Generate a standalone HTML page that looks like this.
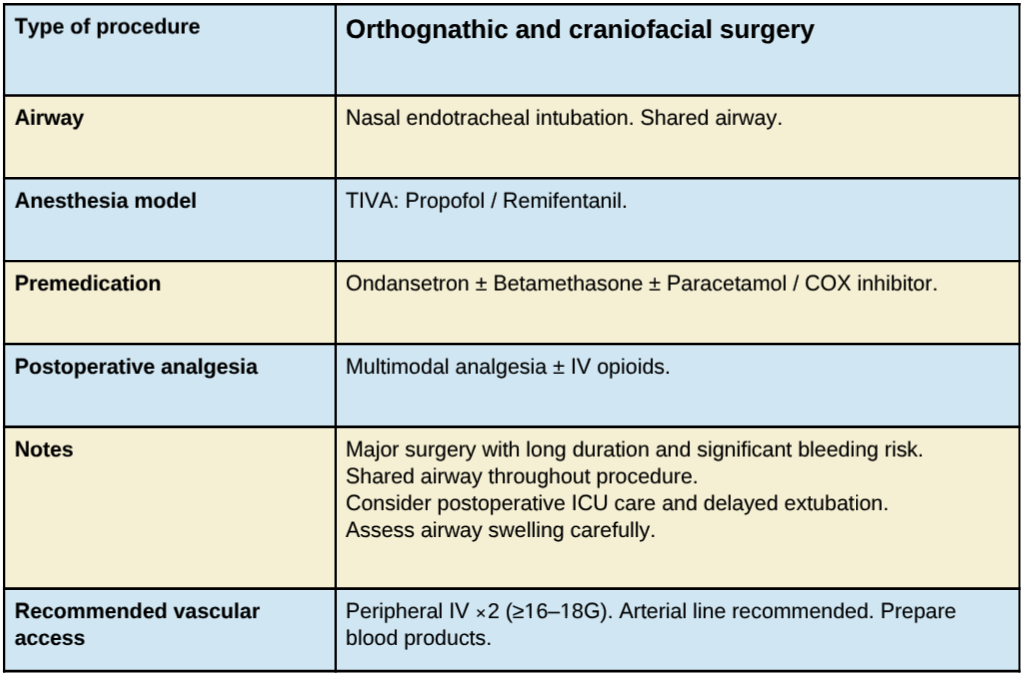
<!DOCTYPE html>
<html>
<head>
<meta charset="utf-8">
<style>
html,body{margin:0;padding:0;background:#fff;}
body{width:1024px;height:676px;position:relative;overflow:hidden;font-family:"Liberation Sans",sans-serif;color:#000;}
svg.grid{position:absolute;left:0;top:0;}
.t{position:absolute;white-space:nowrap;font-size:21.41px;line-height:26.75px;font-kerning:none;text-rendering:geometricPrecision;-webkit-text-stroke:0.15px #000;will-change:transform;transform:translate(var(--dx,0px),var(--dy,0px)) rotate(0.001deg);}
.b{font-weight:bold;font-size:21.31px;}
.c{display:inline-block;transform:scaleY(1.044);transform-origin:0 20px;}
.one{display:inline-block;clip-path:polygon(0 0,100% 0,100% 18.0px,7.28px 18.0px,7.28px 100%,5.38px 100%,5.38px 18.0px,0 18.0px);}
.x{display:inline-block;transform:translateY(1.9px) scale(0.84);}
.h{font-size:25.9px;font-weight:bold;line-height:30px;}
.l{left:14px;--dx:0.65px;}
.r{left:345px;--dx:0.67px;}
</style>
</head>
<body>
<svg class="grid" width="1024" height="676" viewBox="0 0 1024 676">
  <rect x="4" y="4" width="1015.5" height="91.5" fill="#D0E7F3"/>
  <rect x="4" y="95.5" width="1015.5" height="82.8" fill="#F5F0D3"/>
  <rect x="4" y="178.3" width="1015.5" height="82.9" fill="#D0E7F3"/>
  <rect x="4" y="261.2" width="1015.5" height="82.8" fill="#F5F0D3"/>
  <rect x="4" y="344" width="1015.5" height="83" fill="#D0E7F3"/>
  <rect x="4" y="427" width="1015.5" height="161.7" fill="#F5F0D3"/>
  <rect x="4" y="588.7" width="1015.5" height="82.5" fill="#D0E7F3"/>
  <g stroke="#000" fill="none">
    <line x1="2.95" y1="4.25" x2="1020.45" y2="4.25" stroke-width="2.60"/>
    <line x1="2.95" y1="95.52" x2="1020.45" y2="95.52" stroke-width="2.30"/>
    <line x1="2.95" y1="178.28" x2="1020.45" y2="178.28" stroke-width="2.40"/>
    <line x1="2.95" y1="261.18" x2="1020.45" y2="261.18" stroke-width="2.20"/>
    <line x1="2.95" y1="344.04" x2="1020.45" y2="344.04" stroke-width="2.40"/>
    <line x1="2.95" y1="426.93" x2="1020.45" y2="426.93" stroke-width="2.70"/>
    <line x1="2.95" y1="588.70" x2="1020.45" y2="588.70" stroke-width="2.70"/>
    <line x1="2.95" y1="671.15" x2="1020.45" y2="671.15" stroke-width="2.60"/>
    <line x1="4.10" y1="2.95" x2="4.10" y2="672.45" stroke-width="2.30"/>
    <line x1="335.65" y1="2.95" x2="335.65" y2="672.45" stroke-width="2.30"/>
    <line x1="1019.45" y1="2.95" x2="1019.45" y2="672.45" stroke-width="2.00"/>
  </g>
</svg>

<div class="t b l" style="top:13px;--dy:0.54px;letter-spacing:-0.0156px"><span class="c">T</span>ype of procedure</div>
<div class="t h r" style="top:15px;--dy:0.04px"><span class="c" style="transform-origin:0 23.2px">O</span>rthognathic and craniofacial surgery</div>
<div class="t b l" style="top:104px;--dy:0.82px;letter-spacing:-0.1200px"><span class="c">A</span>irway</div>
<div class="t r" style="top:104px;--dy:0.82px;letter-spacing:-0.0193px"><span class="c">N</span>asal endotracheal intubation. <span class="c">S</span>hared airway.</div>
<div class="t b l" style="top:187px;--dy:0.77px;letter-spacing:-0.0067px"><span class="c">A</span>nesthesia model</div>
<div class="t r" style="top:187px;--dy:0.77px;letter-spacing:-0.0017px"><span class="c">T</span><span class="c">I</span><span class="c">V</span><span class="c">A</span>: <span class="c">P</span>ropofol / <span class="c">R</span>emifentanil.</div>
<div class="t b l" style="top:270px;--dy:0.50px;letter-spacing:-0.0275px"><span class="c">P</span>remedication</div>
<div class="t r" style="top:270px;--dy:0.50px;letter-spacing:0.0009px"><span class="c">O</span>ndansetron ± <span class="c">B</span>etamethasone ± <span class="c">P</span>aracetamol / <span class="c">C</span><span class="c">O</span><span class="c">X</span> inhibitor.</div>
<div class="t b l" style="top:353px;--dy:0.72px;letter-spacing:-0.0364px"><span class="c">P</span>ostoperative analgesia</div>
<div class="t r" style="top:353px;--dy:0.72px;letter-spacing:0.0076px"><span class="c">M</span>ultimodal analgesia ± <span class="c">I</span><span class="c">V</span> opioids.</div>
<div class="t b l" style="top:436px;--dy:0.52px;letter-spacing:-0.0625px"><span class="c">N</span>otes</div>
<div class="t r" style="top:436px;--dy:0.52px;letter-spacing:-0.0242px"><span class="c">M</span>ajor surgery with long duration and significant bleeding risk.</div>
<div class="t r" style="top:463px;--dy:0.37px;letter-spacing:-0.0206px"><span class="c">S</span>hared airway throughout procedure.</div>
<div class="t r" style="top:490px;--dy:0.22px;letter-spacing:-0.0120px"><span class="c">C</span>onsider postoperative <span class="c">I</span><span class="c">C</span><span class="c">U</span> care and delayed extubation.</div>
<div class="t r" style="top:517px;--dy:0.07px;letter-spacing:-0.0109px"><span class="c">A</span>ssess airway swelling carefully.</div>
<div class="t b l" style="top:598px;--dy:0.19px;letter-spacing:0.0079px"><span class="c">R</span>ecommended vascular</div>
<div class="t b l" style="top:624px;--dy:0.94px;letter-spacing:-0.1000px">access</div>
<div class="t r" style="top:598px;--dy:0.19px;letter-spacing:-0.0246px"><span class="c">P</span>eripheral <span class="c">I</span><span class="c">V</span> <span class="x">×</span>2 (≥<span class="one">1</span>6–<span class="one">1</span>8<span class="c">G</span>). <span class="c">A</span>rterial line recommended. <span class="c">P</span>repare</div>
<div class="t r" style="top:624px;--dy:0.94px;letter-spacing:-0.0179px">blood products.</div>
</body>
</html>
